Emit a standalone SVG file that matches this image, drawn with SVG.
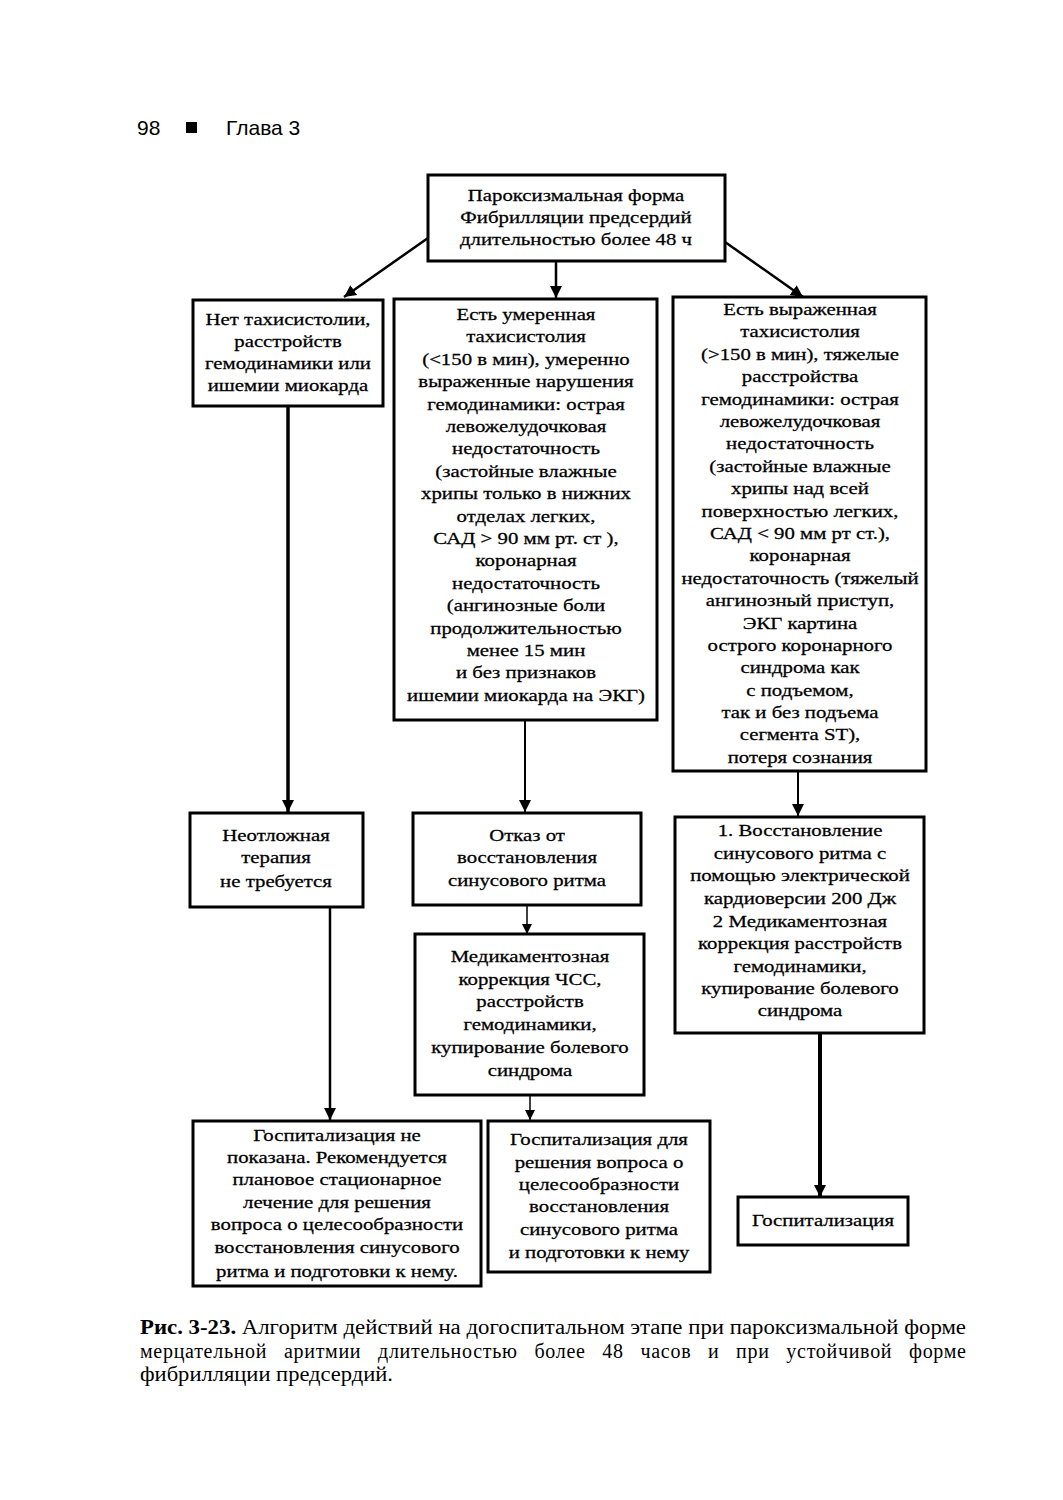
<svg xmlns="http://www.w3.org/2000/svg" width="1063" height="1500" viewBox="0 0 1063 1500">
<style>
.box{fill:#fff;stroke:#000;stroke-width:3}
.t{font-family:"Liberation Serif","DejaVu Serif",serif;font-size:16px;text-anchor:middle;fill:#000;stroke:#000;stroke-width:0.25}
.hdr{font-family:"Liberation Sans","DejaVu Sans",sans-serif;font-size:21px;fill:#000}
.cap{font-family:"Liberation Serif","DejaVu Serif",serif;font-size:20px;fill:#000}
.ln{stroke:#000;fill:none}
</style>
<defs>
<marker id="ah" markerUnits="userSpaceOnUse" markerWidth="14" markerHeight="14" refX="12" refY="6" orient="auto">
<path d="M0,0 L12,6 L0,12 z" fill="#000"/>
</marker>
<marker id="ahs" markerUnits="userSpaceOnUse" markerWidth="12" markerHeight="12" refX="10" refY="5" orient="auto">
<path d="M0,0 L10,5 L0,10 z" fill="#000"/>
</marker>
</defs>
<rect width="1063" height="1500" fill="#fff"/>

<g id="header">
<text class="hdr" x="137" y="135">98</text>
<rect x="186" y="122" width="11" height="11" fill="#000"/>
<text class="hdr" x="226" y="135">Глава 3</text>
</g>

<g id="connectors">
<line class="ln" x1="428" y1="238" x2="344" y2="297" stroke-width="2.5" marker-end="url(#ah)"/>
<line class="ln" x1="556" y1="261" x2="556" y2="298" stroke-width="2.5" marker-end="url(#ah)"/>
<line class="ln" x1="725" y1="242" x2="803" y2="297" stroke-width="2.5" marker-end="url(#ah)"/>
<line class="ln" x1="288" y1="406" x2="288" y2="812" stroke-width="3.5" marker-end="url(#ah)"/>
<line class="ln" x1="525" y1="720" x2="525" y2="812" stroke-width="2" marker-end="url(#ah)"/>
<line class="ln" x1="798" y1="771" x2="798" y2="816" stroke-width="2" marker-end="url(#ah)"/>
<line class="ln" x1="527" y1="905" x2="527" y2="934" stroke-width="1.5" marker-end="url(#ahs)"/>
<line class="ln" x1="330" y1="907" x2="330" y2="1120" stroke-width="2.5" marker-end="url(#ah)"/>
<line class="ln" x1="530" y1="1095" x2="530" y2="1120" stroke-width="1.5" marker-end="url(#ahs)"/>
<line class="ln" x1="820" y1="1033" x2="820" y2="1197" stroke-width="4" marker-end="url(#ah)"/>
</g>

<g id="n-top">
<rect class="box" x="428" y="175" width="297" height="86"/>
<g class="t" transform="translate(576,0) scale(1.3,1)">
<text x="0" y="201">Пароксизмальная форма</text>
<text x="0" y="223">Фибрилляции предсердий</text>
<text x="0" y="245">длительностью более 48 ч</text>
</g>
</g>

<g id="n-no">
<rect class="box" x="193" y="300" width="190" height="106"/>
<g class="t" transform="translate(288,0) scale(1.3,1)">
<text x="0" y="325">Нет тахисистолии,</text>
<text x="0" y="347">расстройств</text>
<text x="0" y="369">гемодинамики или</text>
<text x="0" y="391">ишемии миокарда</text>
</g>
</g>

<g id="n-moderate">
<rect class="box" x="394" y="299" width="263" height="421"/>
<g class="t" transform="translate(526,0) scale(1.3,1)">
<text x="0" y="320">Есть умеренная</text>
<text x="0" y="342">тахисистолия</text>
<text x="0" y="365">(&lt;150 в мин), умеренно</text>
<text x="0" y="387">выраженные нарушения</text>
<text x="0" y="410">гемодинамики: острая</text>
<text x="0" y="432">левожелудочковая</text>
<text x="0" y="454">недостаточность</text>
<text x="0" y="477">(застойные влажные</text>
<text x="0" y="499">хрипы только в нижних</text>
<text x="0" y="522">отделах легких,</text>
<text x="0" y="544">САД &gt; 90 мм рт. ст ),</text>
<text x="0" y="566">коронарная</text>
<text x="0" y="589">недостаточность</text>
<text x="0" y="611">(ангинозные боли</text>
<text x="0" y="634">продолжительностью</text>
<text x="0" y="656">менее 15 мин</text>
<text x="0" y="678">и без признаков</text>
<text x="0" y="701">ишемии миокарда на ЭКГ)</text>
</g>
</g>

<g id="n-severe">
<rect class="box" x="673" y="297" width="253" height="474"/>
<g class="t" transform="translate(800,0) scale(1.3,1)">
<text x="0" y="315">Есть выраженная</text>
<text x="0" y="337">тахисистолия</text>
<text x="0" y="360">(&gt;150 в мин), тяжелые</text>
<text x="0" y="382">расстройства</text>
<text x="0" y="405">гемодинамики: острая</text>
<text x="0" y="427">левожелудочковая</text>
<text x="0" y="449">недостаточность</text>
<text x="0" y="472">(застойные влажные</text>
<text x="0" y="494">хрипы над всей</text>
<text x="0" y="517">поверхностью легких,</text>
<text x="0" y="539">САД &lt; 90 мм рт ст.),</text>
<text x="0" y="561">коронарная</text>
<text x="0" y="584">недостаточность (тяжелый</text>
<text x="0" y="606">ангинозный приступ,</text>
<text x="0" y="629">ЭКГ картина</text>
<text x="0" y="651">острого коронарного</text>
<text x="0" y="673">синдрома как</text>
<text x="0" y="696">с подъемом,</text>
<text x="0" y="718">так и без подъема</text>
<text x="0" y="740">сегмента ST),</text>
<text x="0" y="763">потеря сознания</text>
</g>
</g>

<g id="n-noneed">
<rect class="box" x="190" y="813" width="173" height="94"/>
<g class="t" transform="translate(276,0) scale(1.3,1)">
<text x="0" y="841">Неотложная</text>
<text x="0" y="863">терапия</text>
<text x="0" y="887">не требуется</text>
</g>
</g>

<g id="n-refuse">
<rect class="box" x="413" y="813" width="228" height="92"/>
<g class="t" transform="translate(527,0) scale(1.3,1)">
<text x="0" y="841">Отказ от</text>
<text x="0" y="863">восстановления</text>
<text x="0" y="886">синусового ритма</text>
</g>
</g>

<g id="n-medcorr">
<rect class="box" x="415" y="934" width="229" height="161"/>
<g class="t" transform="translate(530,0) scale(1.3,1)">
<text x="0" y="962">Медикаментозная</text>
<text x="0" y="985">коррекция ЧСС,</text>
<text x="0" y="1007">расстройств</text>
<text x="0" y="1030">гемодинамики,</text>
<text x="0" y="1053">купирование болевого</text>
<text x="0" y="1076">синдрома</text>
</g>
</g>

<g id="n-cardio">
<rect class="box" x="675" y="817" width="249" height="216"/>
<g class="t" transform="translate(800,0) scale(1.3,1)">
<text x="0" y="836">1. Восстановление</text>
<text x="0" y="859">синусового ритма с</text>
<text x="0" y="881">помощью электрической</text>
<text x="0" y="904">кардиоверсии 200 Дж</text>
<text x="0" y="927">2  Медикаментозная</text>
<text x="0" y="949">коррекция расстройств</text>
<text x="0" y="972">гемодинамики,</text>
<text x="0" y="994">купирование болевого</text>
<text x="0" y="1016">синдрома</text>
</g>
</g>

<g id="n-hosp-not">
<rect class="box" x="193" y="1121" width="288" height="165"/>
<g class="t" transform="translate(337,0) scale(1.3,1)">
<text x="0" y="1141">Госпитализация не</text>
<text x="0" y="1163">показана. Рекомендуется</text>
<text x="0" y="1185">плановое стационарное</text>
<text x="0" y="1208">лечение для решения</text>
<text x="0" y="1230">вопроса о целесообразности</text>
<text x="0" y="1253">восстановления синусового</text>
<text x="0" y="1277">ритма и подготовки к нему.</text>
</g>
</g>

<g id="n-hosp-decide">
<rect class="box" x="488" y="1121" width="222" height="151"/>
<g class="t" transform="translate(599,0) scale(1.3,1)">
<text x="0" y="1145">Госпитализация для</text>
<text x="0" y="1168">решения вопроса о</text>
<text x="0" y="1190">целесообразности</text>
<text x="0" y="1212">восстановления</text>
<text x="0" y="1235">синусового ритма</text>
<text x="0" y="1258">и подготовки к нему</text>
</g>
</g>

<g id="n-hosp">
<rect class="box" x="738" y="1197" width="170" height="48"/>
<g class="t" transform="translate(823,0) scale(1.3,1)">
<text x="0" y="1226">Госпитализация</text>
</g>
</g>

<g id="caption">
<text class="cap" x="140" y="1334" textLength="826" lengthAdjust="spacingAndGlyphs"><tspan font-weight="bold">Рис. 3-23.</tspan> Алгоритм действий на догоспитальном этапе при пароксизмальной форме</text>
<text class="cap" x="140" y="1358" textLength="826" lengthAdjust="spacing" word-spacing="11">мерцательной аритмии длительностью более 48 часов и при устойчивой форме</text>
<text class="cap" x="140" y="1381" textLength="253" lengthAdjust="spacingAndGlyphs">фибрилляции предсердий.</text>
</g>
</svg>
